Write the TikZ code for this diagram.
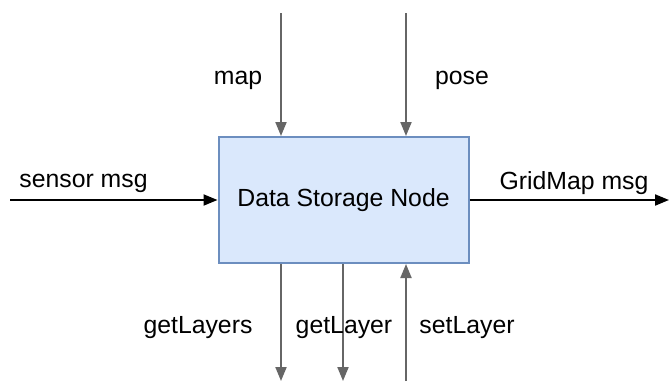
\documentclass[tikz,border=0pt]{standalone}
\usepackage{fontspec}
\setmainfont{Liberation Sans}
\usetikzlibrary{arrows.meta}
\definecolor{boxfill}{HTML}{DAE8FC}
\definecolor{boxline}{HTML}{6C8EBF}
\definecolor{flowgray}{HTML}{666666}
\begin{document}
\begin{tikzpicture}[x=1pt,y=-1pt,
  lbl/.style={font=\fontsize{24.8}{28}\selectfont, inner sep=0pt, text=black},
  blackflow/.style={draw=black, line width=2pt, -{Triangle[length=14pt,width=11pt]}},
  grayflow/.style={draw=flowgray, line width=2pt, -{Triangle[length=14pt,width=11pt]}}]
\useasboundingbox (0,0) rectangle (669,381);
% central node
\node[draw=boxline, fill=boxfill, line width=2pt, minimum width=250pt, minimum height=126pt,
      inner sep=0pt, font=\fontsize{24.8}{28}\selectfont] (store) at (343.5,200) {Data Storage Node};
% free ends of the connectors
\coordinate (mapin) at (281,13);
\coordinate (posein) at (406,13);
\coordinate (sensorin) at (10,200);
\coordinate (gridout) at (669,200);
\coordinate (layersout) at (281,381);
\coordinate (layerout) at (343,381);
\coordinate (setin) at (406,381);
% connectors
\draw[grayflow] (mapin) -- (mapin |- store.north);
\draw[grayflow] (posein) -- (posein |- store.north);
\draw[blackflow] (sensorin) -- (store.west);
\draw[blackflow] (store.east) -- (gridout);
\draw[grayflow] (layersout |- store.south) -- (layersout);
\draw[grayflow] (layerout |- store.south) -- (layerout);
\draw[grayflow] (setin) -- (setin |- store.south);
% labels
\node[lbl] (lmap) at (238,80) {map};
\node[lbl] (lpose) at (462,80) {pose};
\node[lbl] (lsensor) at (83.5,183) {sensor msg};
\node[lbl] (lgrid) at (574,183) {GridMap msg};
\node[lbl] (llayers) at (198,328) {getLayers};
\node[lbl] (llayer) at (344,328) {getLayer};
\node[lbl] (lset) at (467,328) {setLayer};
\end{tikzpicture}
\end{document}
